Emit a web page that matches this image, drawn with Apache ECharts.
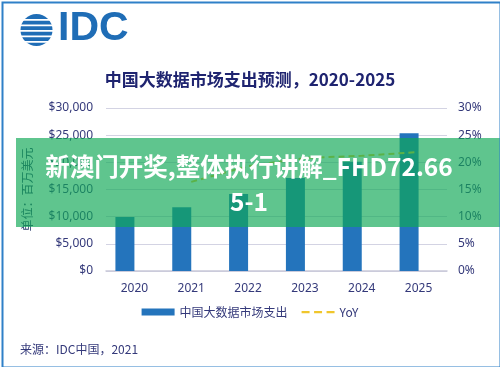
<!DOCTYPE html>
<html>
<head>
<meta charset="utf-8">
<script src="https://cdn.jsdelivr.net/npm/echarts@6/dist/echarts.min.js"></script>
<style>
html,body{margin:0;padding:0;background:#fff;}
#main{width:500px;height:367px;}
</style>
</head>
<body>
<div id="main"></div>
<script>
var categories = ['2020', '2021', '2022', '2023', '2024', '2025'];
var spending = [9950, 11750, 14150, 17100, 20100, 25350];
var yoy = ['-', 16.4, 19.3, 20.8, 21.2, 21.9];
var leftTicks = { min: 0, max: 30000, interval: 5000 };
var rightTicks = { min: 0, max: 30, interval: 5 };
var titleText = '中国大数据市场支出预测，2020-2025';
var seriesNames = ['中国大数据市场支出', 'YoY'];
var axisName = '单位：百万美元';
var sourceText = '来源：IDC中国，2021';
var bannerText = '新澳门开奖,整体执行讲解_FHD72.66\n5-1';

var navy = '#34397a';
var chart = echarts.init(document.getElementById('main'), null, { renderer: 'canvas' });

function fmtMoney(v) {
  return '$' + v.toString().replace(/\B(?=(\d{3})+(?!\d))/g, ',');
}

var globe = [];
globe.push({ type: 'circle', shape: { cx: 36.5, cy: 30, r: 16 }, style: { fill: '#1f6db6' }, z: 10 });
[19, 24.5, 30, 35.5, 41].forEach(function (y, i) {
  globe.push({ type: 'rect', shape: { x: 18 + (i % 2) * 3, y: y, width: 38, height: 1.8 }, style: { fill: '#ffffff' }, z: 11 });
});

var dashIcon = 'path://M0,0h0.01v0.01h-0.01z M33,7h0.01v0.01h-0.01z M0,2.5h8v2.2h-8z M12.5,2.5h8v2.2h-8z M25,2.5h8v2.2h-8z';

var option = {
  backgroundColor: '#ffffff',
  animation: false,
  title: {
    text: titleText,
    left: 'center',
    top: 66,
    textStyle: { fontFamily: 'Noto Sans CJK SC', fontSize: 17, fontWeight: 'bold', color: '#1f2470' }
  },
  grid: { left: 106, right: 53, top: 108, bottom: 96 },
  legend: {
    bottom: 44,
    left: 'center',
    itemGap: 14,
    textStyle: { fontFamily: 'Noto Sans CJK SC', fontSize: 12, color: navy },
    data: [
      { name: seriesNames[0], icon: 'rect', itemStyle: { color: '#2474bc' } },
      { name: seriesNames[1], icon: dashIcon, itemStyle: { color: '#f0c62c' } }
    ],
    itemWidth: 33,
    itemHeight: 7
  },
  xAxis: {
    type: 'category',
    data: categories,
    axisTick: { show: false },
    axisLine: { lineStyle: { color: '#c9c9d9', width: 1.5 } },
    axisLabel: { color: navy, fontFamily: 'Noto Sans', fontSize: 12, margin: 12 }
  },
  yAxis: [
    {
      type: 'value',
      min: leftTicks.min, max: leftTicks.max, interval: leftTicks.interval,
      name: axisName,
      nameLocation: 'middle',
      nameRotate: 90,
      nameGap: 73,
      nameTextStyle: { color: '#2f3f6e', fontFamily: 'Noto Sans CJK SC', fontSize: 12 },
      axisLabel: { color: navy, fontFamily: 'Noto Sans', fontSize: 12, margin: 13, formatter: fmtMoney },
      splitLine: { lineStyle: { color: '#d3d3e3', width: 1.2 } },
      axisLine: { show: false },
      axisTick: { show: false }
    },
    {
      type: 'value',
      min: rightTicks.min, max: rightTicks.max, interval: rightTicks.interval,
      axisLabel: { color: navy, fontFamily: 'Noto Sans', fontSize: 12, margin: 11, formatter: '{value}%' },
      splitLine: { show: false },
      axisLine: { show: false },
      axisTick: { show: false }
    }
  ],
  series: [
    {
      name: seriesNames[0],
      type: 'bar',
      data: spending,
      barWidth: 19,
      barGap: '0%',
      itemStyle: { color: '#2474bc' },
      z: 2
    },
    {
      name: 'spacer',
      type: 'bar',
      data: categories.map(function () { return '-'; }),
      barWidth: 19,
      silent: true
    },
    {
      name: seriesNames[1],
      type: 'line',
      yAxisIndex: 1,
      data: yoy,
      symbol: 'none',
      lineStyle: { color: '#f0c62c', width: 2, type: [6, 4] },
      itemStyle: { color: '#f0c62c' },
      z: 3
    }
  ],
  graphic: globe.concat([
    {
      type: 'text', left: 58, top: 8, z: 10,
      style: { text: 'IDC', fontFamily: 'Liberation Sans', fontSize: 41, fontWeight: 'bold', fill: '#1f6db6' }
    },
    {
      type: 'text', left: 20, top: 343, z: 10,
      style: { text: sourceText, fontFamily: 'Noto Sans CJK SC', fontSize: 12, fill: navy }
    },
    {
      type: 'rect', left: 16, top: 138, z: 50,
      shape: { width: 484, height: 89 },
      style: { fill: 'rgba(17,169,87,0.67)' }
    },
    {
      type: 'text', z: 51,
      x: 249, y: 184,
      style: {
        text: bannerText,
        align: 'center', verticalAlign: 'middle',
        fontFamily: 'Noto Sans CJK SC', fontSize: 24.5, fontWeight: 'bold',
        lineHeight: 35, fill: '#ffffff'
      }
    },
    {
      type: 'rect', left: 0, top: 0, z: 60,
      shape: { x: 1, y: 1, width: 498, height: 365 },
      style: { fill: 'none', stroke: '#2f80c8', lineWidth: 2 }
    }
  ])
};
chart.setOption(option);
</script>
</body>
</html>
